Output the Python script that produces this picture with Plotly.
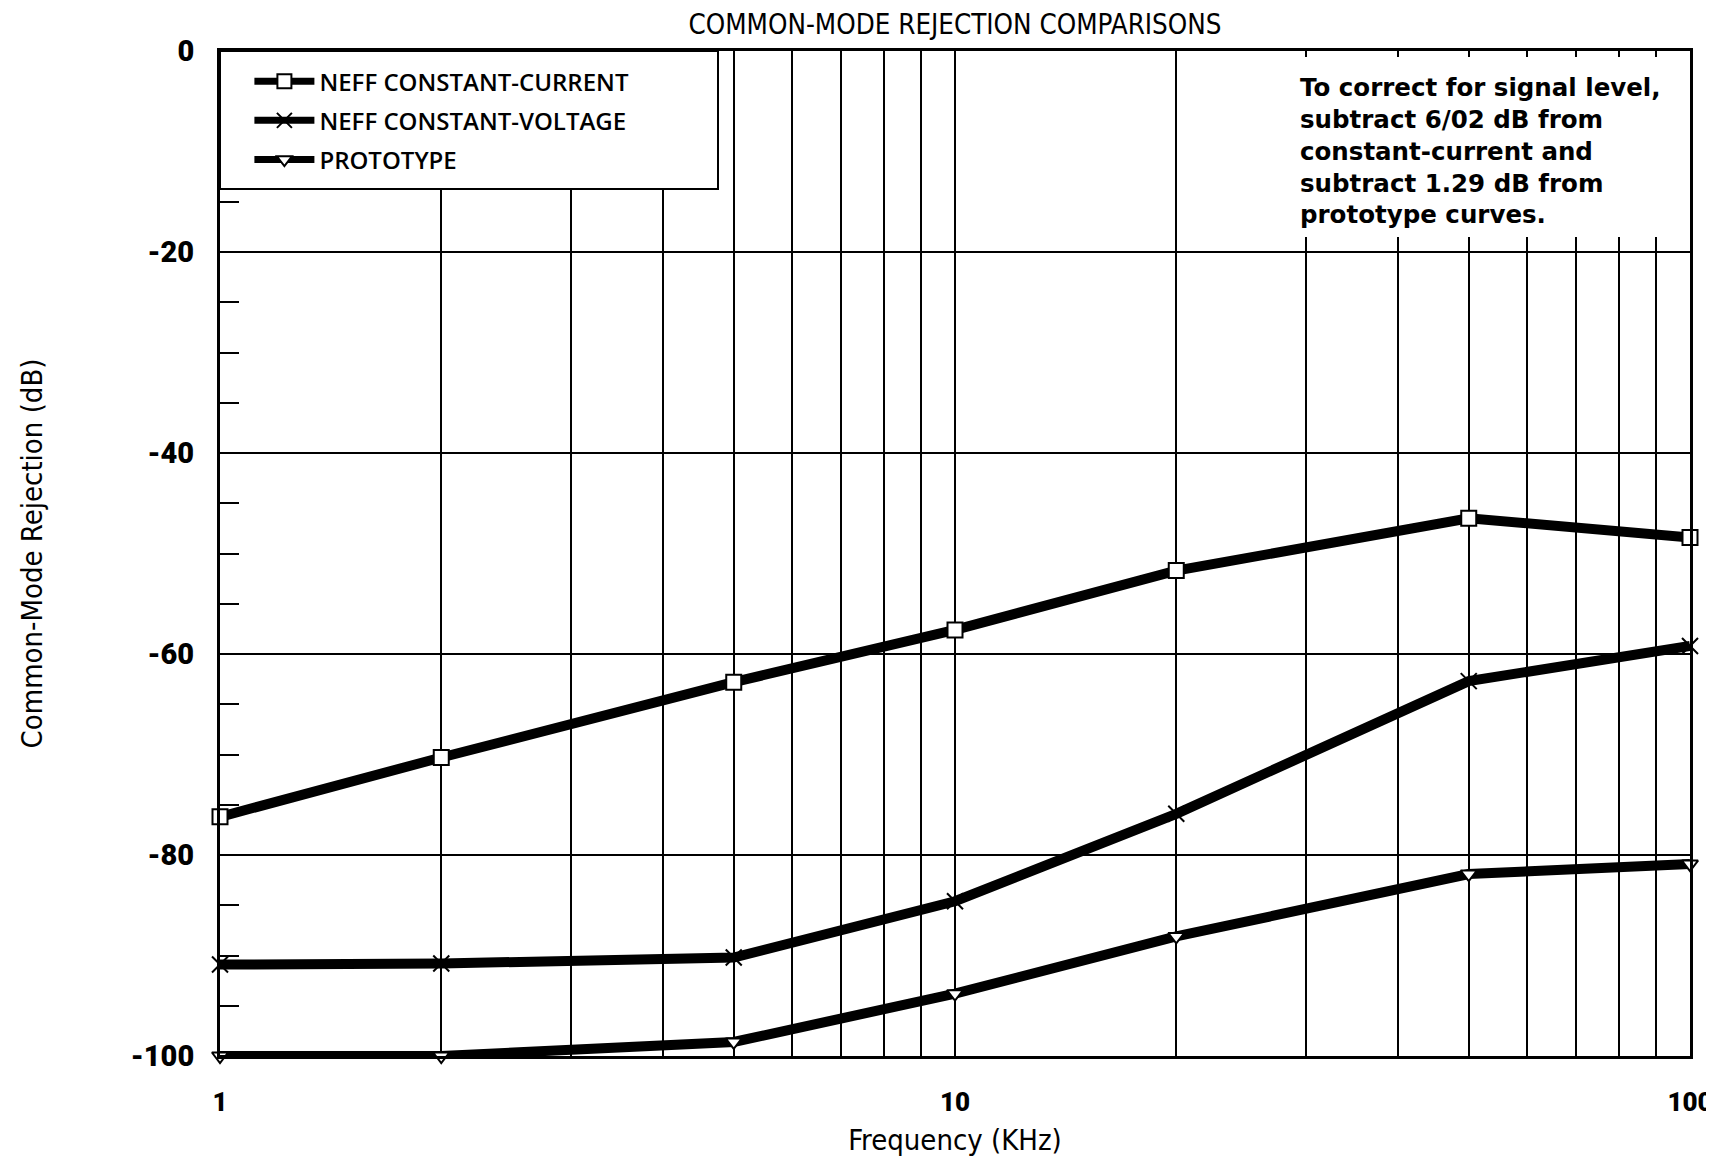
import plotly.graph_objects as go

# ---- data ----
freq_khz = [1, 2, 5, 10, 20, 50, 100]
neff_constant_current = [-76.2, -70.3, -62.8, -57.6, -51.7, -46.5, -48.4]
neff_constant_voltage = [-90.9, -90.8, -90.2, -84.6, -75.9, -62.7, -59.2]
prototype = [-100.0, -100.0, -98.6, -93.8, -88.1, -81.9, -80.9]

series_names = ["NEFF CONSTANT-CURRENT", "NEFF CONSTANT-VOLTAGE", "PROTOTYPE"]
x_tick_vals = [1, 10, 100]
x_tick_text = ["1", "10", "100"]
x_minor_vals = [2, 3, 4, 5, 6, 7, 8, 9, 20, 30, 40, 50, 60, 70, 80, 90]
y_tick_vals = [0, -20, -40, -60, -80, -100]
y_tick_text = ["0", "-20", "-40", "-60", "-80", "-100"]

title_text = "COMMON-MODE REJECTION COMPARISONS"
note_lines = [
    "To correct for signal level,",
    "subtract 6/02 dB from",
    "constant-current and",
    "subtract 1.29 dB from",
    "prototype curves.",
]

# page is offset by the default 8px body margin
OFF = 8
PAGE_W, PAGE_H = 1714, 1162
W, H = PAGE_W - OFF, PAGE_H - OFF
# plot area in page pixels
P_L, P_R, P_T, P_B = 220, 1690, 51, 1056
PW, PH = P_R - P_L, P_B - P_T
M_L, M_T = P_L - OFF, P_T - OFF
M_R, M_B = W - (P_R - OFF), H - (P_B - OFF)


def fx(px):
    return (px - P_L) / PW


def fy(py):
    return 1 - (py - P_T) / PH


PLOTTER = "DejaVu Sans Condensed, DejaVu Sans, sans-serif"

fig = go.Figure()

marker_syms = ["square", "x-thin", "triangle-down"]
marker_sizes = [15, 16, 14]
series_vals = [neff_constant_current, neff_constant_voltage, prototype]

for i, (name, vals, sym, sz) in enumerate(zip(series_names, series_vals, marker_syms, marker_sizes)):
    fig.add_trace(go.Scatter(
        x=freq_khz, y=vals, name=name, mode="lines",
        line=dict(color="black", width=10),
        legendgroup=f"g{i}", showlegend=False, cliponaxis=False,
        hoverinfo="skip",
    ))
    fig.add_trace(go.Scatter(
        x=freq_khz, y=vals, name=name, mode="markers",
        marker=dict(symbol=sym, size=sz, color="white",
                    line=dict(color="black", width=2)),
        legendgroup=f"g{i}", showlegend=False, cliponaxis=False,
    ))
    fig.add_trace(go.Scatter(
        x=[None], y=[None], name=name, mode="lines+markers",
        line=dict(color="black", width=7),
        marker=dict(symbol=sym, size=sz - 1, color="white",
                    line=dict(color="black", width=2)),
        legendgroup=f"g{i}", showlegend=True,
    ))

axis_common = dict(
    showline=True, mirror=True, linecolor="black", linewidth=3,
    showgrid=True, gridcolor="black", gridwidth=2, zeroline=False,
    ticks="", automargin=False,
)

fig.update_xaxes(
    type="log", range=[0, 2],
    tickmode="array", tickvals=x_tick_vals, ticktext=x_tick_text,
    tickfont=dict(family="Roboto", size=26, color="black", weight=900),
    ticklabelstandoff=21, ticklabeloverflow="allow",
    minor=dict(tickmode="array", tickvals=x_minor_vals, showgrid=True,
               gridcolor="black", gridwidth=2, ticks=""),
    title=dict(text="Frequency (KHz)",
               font=dict(family=PLOTTER, size=29, color="black"),
               standoff=14),
    **axis_common,
)
fig.update_yaxes(
    range=[-100, 0],
    tickmode="array", tickvals=y_tick_vals, ticktext=y_tick_text,
    tickfont=dict(family="Roboto", size=29, color="black", weight=900),
    ticklabelstandoff=17, ticklabeloverflow="allow",
    minor=dict(dtick=5, tick0=0, ticks="inside", ticklen=19, tickwidth=2,
               tickcolor="black", showgrid=False),
    title=dict(text="Common-Mode Rejection (dB)",
               font=dict(family=PLOTTER, size=29, color="black"),
               standoff=80),
    **axis_common,
)

# legend box (white, bordered) covering the grid
fig.add_shape(type="rect", xref="x domain", yref="y domain",
              x0=0, x1=fx(718), y0=fy(189), y1=1,
              fillcolor="white", line=dict(color="black", width=2), layer="above")

# white box behind the correction note
fig.add_shape(type="rect", xref="x domain", yref="y domain",
              x0=fx(1262), x1=fx(1686), y0=fy(237), y1=fy(57),
              fillcolor="white", line=dict(width=0), layer="above")

fig.add_annotation(
    xref="x domain", yref="y domain",
    x=fx(1298), y=fy(71),
    xanchor="left", yanchor="top", align="left", showarrow=False,
    text="<br>".join(note_lines),
    font=dict(family="DejaVu Sans", size=24.5, color="black", weight=700),
)

fig.update_layout(
    width=W, height=H,
    margin=dict(l=M_L, r=M_R, t=M_T, b=M_B, autoexpand=False),
    paper_bgcolor="white", plot_bgcolor="white",
    title=dict(text=title_text, x=(M_L + PW / 2) / W, xanchor="center",
               y=1 - (24 - OFF) / H, yanchor="middle",
               font=dict(family=PLOTTER, size=27.5, color="black")),
    legend=dict(
        x=0.02, y=0.992, xanchor="left", yanchor="top",
        bgcolor="rgba(0,0,0,0)", borderwidth=0,
        traceorder="grouped", tracegroupgap=5,
        font=dict(family="Open Sans", size=24, color="black", weight=600),
        itemwidth=60,
    ),
    showlegend=True,
)

fig.write_html("out.html")
